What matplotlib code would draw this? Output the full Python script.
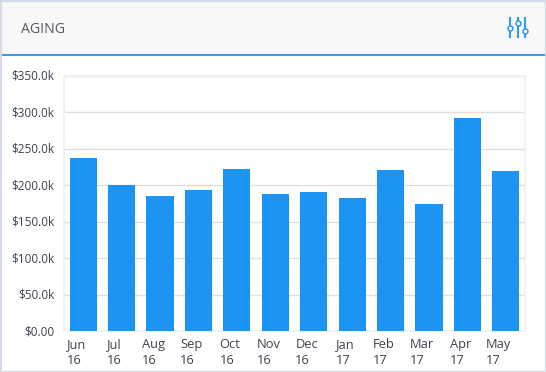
import matplotlib
matplotlib.use("Agg")
import matplotlib.pyplot as plt
from matplotlib.patches import Rectangle
from matplotlib.lines import Line2D
from matplotlib.ticker import FuncFormatter
from matplotlib.transforms import ScaledTranslation

W, H = 546, 372

months = ["Jun", "Jul", "Aug", "Sep", "Oct", "Nov", "Dec", "Jan", "Feb", "Mar", "Apr", "May"]
years = ["16", "16", "16", "16", "16", "16", "16", "17", "17", "17", "17", "17"]
values = [237.5, 200, 185, 193.5, 222, 188, 191, 182.5, 221, 174, 293, 219]
y_ticks = [0, 50, 100, 150, 200, 250, 300, 350]

BLUE = "#1a94f5"
HEADER_LINE = "#2f9bea"

plt.rcParams["font.family"] = ["Open Sans", "DejaVu Sans"]

fig = plt.figure(figsize=(W / 100, H / 100), dpi=100, facecolor="white")


def px_x(x):
    return x / W


def px_y(y):
    return 1 - y / H


# card header and outer border
fig.add_artist(Rectangle((0, px_y(54)), 1, 54 / H, transform=fig.transFigure,
                         facecolor="#f8f8f8", edgecolor="none"))
fig.add_artist(Rectangle((0, px_y(55.5)), 1, 2 / H, transform=fig.transFigure,
                         facecolor=HEADER_LINE, edgecolor="none"))
fig.add_artist(Rectangle((0.5 / W, 0.5 / H), (W - 1) / W, (H - 1) / H, transform=fig.transFigure,
                         facecolor="none", edgecolor="#d3dce9", linewidth=1.6))
fig.text(px_x(21), px_y(29.5), "AGING", fontsize=10.2, color="#55595f", va="center", ha="left",
         fontweight="medium")

# slider icon in the header
for x, knob in [(510, 28), (517.7, 23), (525, 31)]:
    fig.add_artist(Line2D([px_x(x), px_x(x)], [px_y(18), px_y(37)], transform=fig.transFigure,
                          color=HEADER_LINE, linewidth=1.5))
    fig.add_artist(Line2D([px_x(x)], [px_y(knob)], transform=fig.transFigure, marker="o",
                          markersize=3.6, markerfacecolor="white", markeredgecolor=HEADER_LINE,
                          markeredgewidth=1.1, linestyle="none"))

ax = fig.add_axes([px_x(64), px_y(331), (525 - 64) / W, (331 - 76) / H])
x = list(range(len(months)))
ax.bar(x, values, width=0.705, color=BLUE, zorder=3)
ax.set_xlim(-0.5, 11.5)
ax.set_ylim(0, 350)

ax.set_yticks(y_ticks)
ax.yaxis.set_major_formatter(FuncFormatter(lambda v, _: "$0.00" if v == 0 else f"${v:.1f}k"))
ax.grid(axis="y", color="#dfdfdf", linewidth=1, zorder=0)
ax.set_axisbelow(True)
for s in ax.spines.values():
    s.set_color("#f0f0f0")
    s.set_linewidth(1.2)

ax.set_xticks(x)
ax.set_xticklabels([f"{m}\n{y}" for m, y in zip(months, years)], multialignment="left", linespacing=1.33)
ax.tick_params(axis="y", length=0, labelsize=8.5, labelcolor="#3d4350", pad=7)
ax.tick_params(axis="x", length=0, labelsize=9.3, labelcolor="#3d4350", pad=5)

# month labels sit a little left of their bars, value labels a pixel above their lines
shift = ScaledTranslation(-7 / 100, 0, fig.dpi_scale_trans)
for lab in ax.get_xticklabels():
    lab.set_transform(lab.get_transform() + shift)
lift = ScaledTranslation(0, 1 / 100, fig.dpi_scale_trans)
for lab in ax.get_yticklabels():
    lab.set_transform(lab.get_transform() + lift)

fig.savefig("out.png", dpi=100)
